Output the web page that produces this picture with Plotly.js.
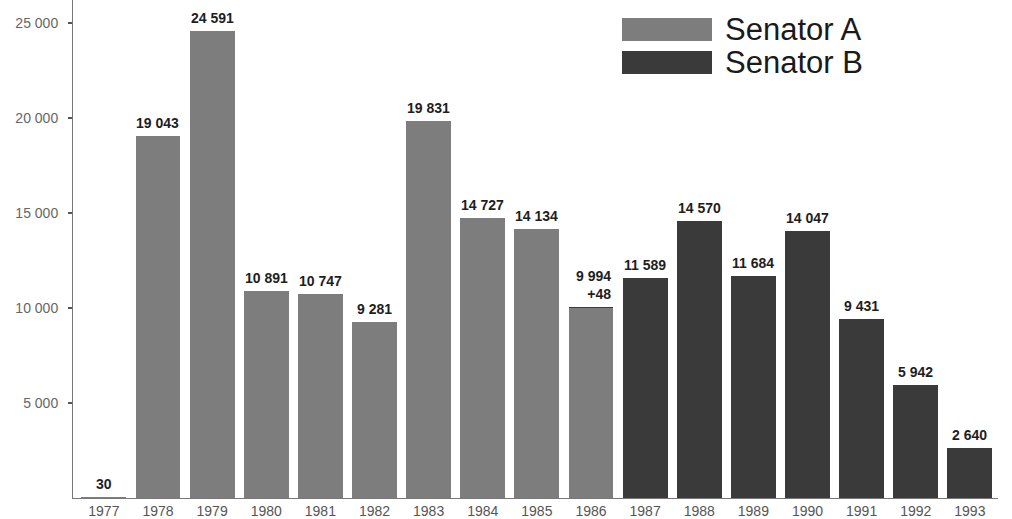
<!DOCTYPE html>
<html>
<head>
<meta charset="utf-8">
<script src="https://cdn.plot.ly/plotly-3.0.1.min.js"></script>
<style>html,body{margin:0;padding:0;background:#fff;}#chart{width:1012px;height:519px;}</style>
</head>
<body>
<div id="chart"></div>
<script>
const years = ['1977','1978','1979','1980','1981','1982','1983','1984','1985','1986','1987','1988','1989','1990','1991','1992','1993'];
const senatorA = [30, 19043, 24591, 10891, 10747, 9281, 19831, 14727, 14134, 9994, null, null, null, null, null, null, null];
const senatorB = [null, null, null, null, null, null, null, null, null, 48, 11589, 14570, 11684, 14047, 9431, 5942, 2640];
const barLabels = ['30','19 043','24 591','10 891','10 747','9 281','19 831','14 727','14 134','9 994<br>+48','11 589','14 570','11 684','14 047','9 431','5 942','2 640'];
const yTicks = [5000, 10000, 15000, 20000, 25000];
const seriesNames = ['Senator A', 'Senator B'];

const colA = '#7d7d7d';
const colB = '#3a3a3a';

const totals = years.map((y, i) => (senatorA[i] || 0) + (senatorB[i] || 0));

const traces = [
  {type: 'bar', name: seriesNames[0], x: years, y: senatorA, marker: {color: colA}, showlegend: false, hoverinfo: 'x+y'},
  {type: 'bar', name: seriesNames[1], x: years, y: senatorB, marker: {color: colB}, showlegend: false, hoverinfo: 'x+y'}
];

// category axis: annotation x given as category index
const annotations = years.map((y, i) => ({
  x: i, y: totals[i], xref: 'x', yref: 'y',
  text: '<b>' + barLabels[i] + '</b>',
  showarrow: false, yanchor: 'bottom', yshift: 3,
  xshift: barLabels[i].includes('<br>') ? 3 : 0,
  align: barLabels[i].includes('<br>') ? 'right' : 'center',
  font: {family: 'Liberation Sans, Arial, sans-serif', size: 14, color: '#1e1e1e'}
}));

// legend (drawn manually to match large swatches)
const legendColors = [colA, colB];
const shapes = [];
seriesNames.forEach((n, k) => {
  const top = 1 - (18 + k * 33) / 498;
  const bot = 1 - (41 + k * 33) / 498;
  shapes.push({type: 'rect', xref: 'paper', yref: 'paper',
    x0: (622 - 73) / 925, x1: (712 - 73) / 925, y0: bot, y1: top,
    fillcolor: legendColors[k], line: {width: 0}});
  annotations.push({xref: 'paper', yref: 'paper', x: (723 - 73) / 925, y: (top + bot) / 2,
    xanchor: 'left', yanchor: 'middle', showarrow: false, text: n,
    font: {family: 'Liberation Sans, Arial, sans-serif', size: 31, color: '#1a1a1a'}});
});

const layout = {
  width: 1012, height: 519,
  margin: {l: 73, r: 14, t: 0, b: 21, pad: 0},
  paper_bgcolor: '#ffffff', plot_bgcolor: '#ffffff',
  barmode: 'stack', bargap: 0.17,
  separators: '. ',
  font: {family: 'Liberation Sans, Arial, sans-serif', color: '#555'},
  xaxis: {
    type: 'category', range: [-0.57, 16.52],
    showline: true, linecolor: '#777', linewidth: 1,
    ticks: '', showgrid: false, zeroline: false,
    tickfont: {size: 14, color: '#555'}
  },
  yaxis: {
    range: [0, 26200], tickvals: yTicks, tickformat: ',d',
    showline: true, linecolor: '#777', linewidth: 1,
    ticks: 'outside', ticklen: 4, tickcolor: '#555', tickwidth: 2,
    ticklabelstandoff: 7,
    showgrid: false, zeroline: false,
    tickfont: {size: 14, color: '#666'}
  },
  annotations: annotations,
  shapes: shapes
};

Plotly.newPlot('chart', traces, layout, {staticPlot: true, displayModeBar: false});
</script>
</body>
</html>
